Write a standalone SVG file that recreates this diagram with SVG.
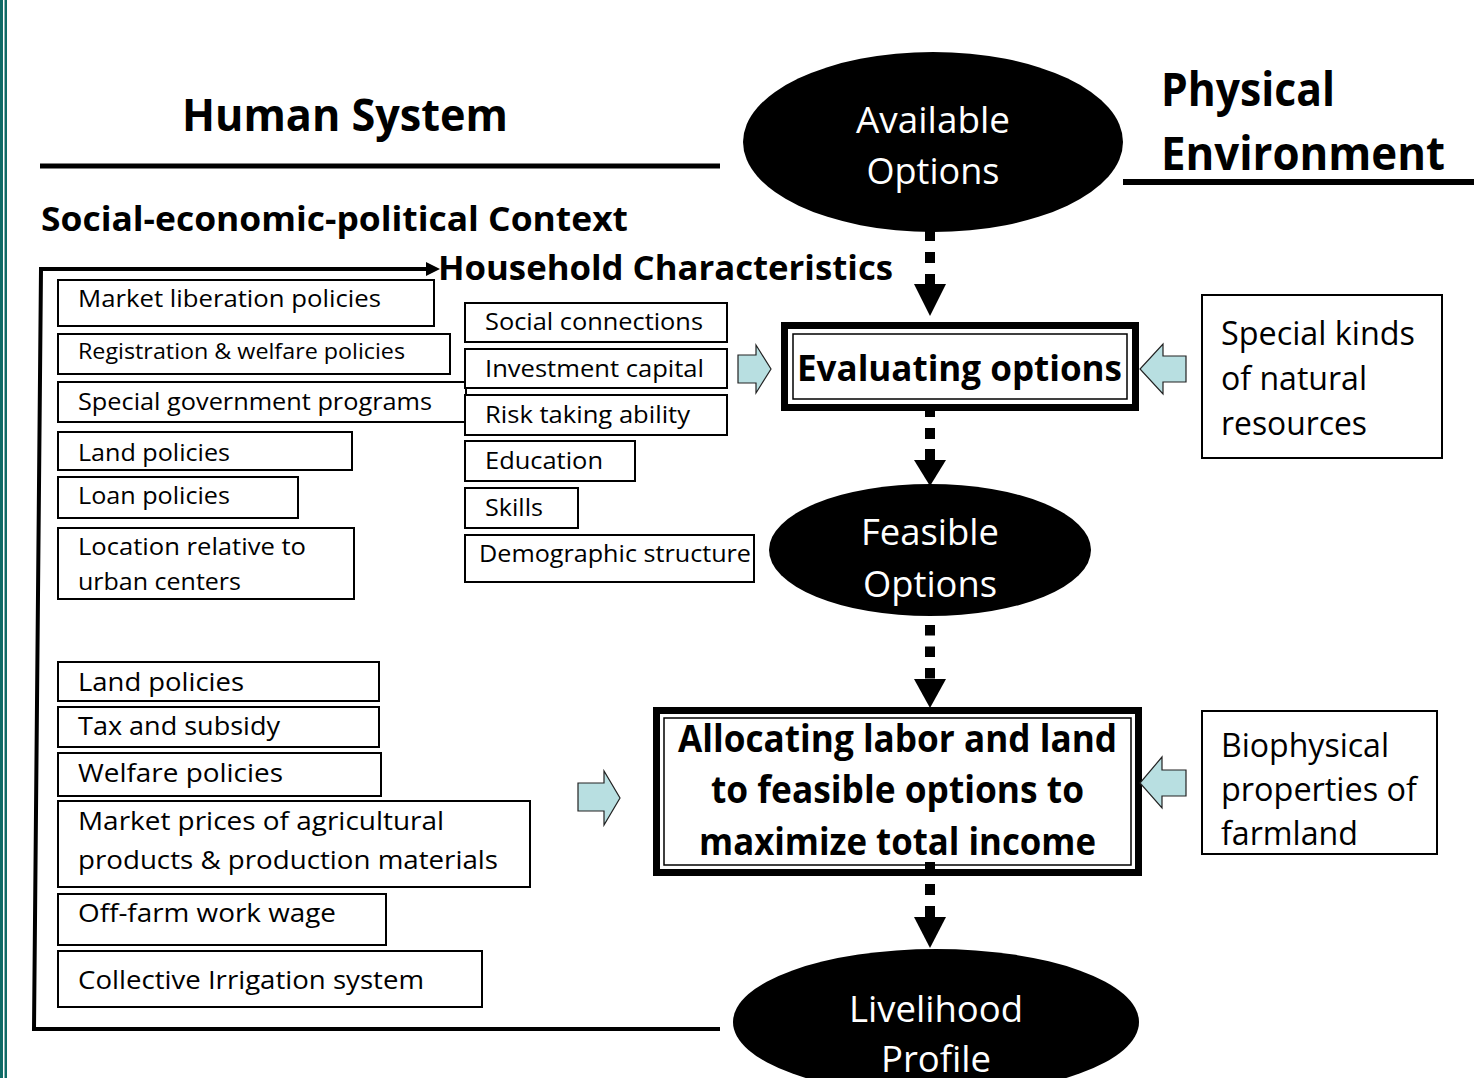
<svg xmlns="http://www.w3.org/2000/svg" width="1484" height="1078" viewBox="0 0 1484 1078">
<defs>
<style>
text{font-family:"Open Sans","Noto Sans","Liberation Sans",sans-serif;fill:#000}
.box{fill:#fff;stroke:#000;stroke-width:2}
.t24{font-size:24px}
.t26{font-size:26px}
.t32{font-size:32px}
.hd{font-weight:bold}
.wt{fill:#fff;font-size:36px;text-anchor:middle}
.bt{font-weight:bold;text-anchor:middle}
.ell{fill:#000}
.dash{stroke:#000;stroke-width:10;fill:none}
.blk{fill:#b8dfe1;stroke:#222;stroke-width:1.2}
.thick{fill:#fff;stroke:#000;stroke-width:7}
.thin{fill:none;stroke:#000;stroke-width:1.5}
</style>
</defs>
<rect x="0" y="0" width="1484" height="1078" fill="#fff"/>
<rect x="0" y="0" width="3" height="1078" fill="#0e6b66"/>
<rect x="4.5" y="0" width="2.5" height="1078" fill="#0e6b66"/>

<g id="headings">
<text class="hd" x="182" y="131" font-size="44" textLength="326" lengthAdjust="spacingAndGlyphs">Human System</text>
<rect x="40" y="163.5" width="680" height="5" fill="#000"/>
<text class="hd" x="1161" y="106" font-size="46" textLength="174" lengthAdjust="spacingAndGlyphs">Physical</text>
<text class="hd" x="1161" y="170" font-size="46" textLength="284" lengthAdjust="spacingAndGlyphs">Environment</text>
<rect x="1123" y="179" width="351" height="6" fill="#000"/>
<text class="hd" x="41" y="231" font-size="34" textLength="587" lengthAdjust="spacingAndGlyphs">Social-economic-political Context</text>
<text class="hd" x="438" y="280" font-size="34" textLength="455" lengthAdjust="spacingAndGlyphs">Household Characteristics</text>
</g>

<g id="available-options">
<ellipse class="ell" cx="933" cy="142" rx="190" ry="90"/>
<text class="wt" x="933" y="133" textLength="154" lengthAdjust="spacingAndGlyphs">Available</text>
<text class="wt" x="933" y="184" textLength="133" lengthAdjust="spacingAndGlyphs">Options</text>
</g>

<g id="evaluating-options">
<rect class="thick" x="784.5" y="325.5" width="351" height="82"/>
<rect class="thin" x="793" y="334" width="334" height="65"/>
<text class="bt" x="959.5" y="381" font-size="36" textLength="325" lengthAdjust="spacingAndGlyphs">Evaluating options</text>
</g>

<g id="feasible-options">
<ellipse class="ell" cx="930" cy="550" rx="161" ry="66"/>
<text class="wt" x="930" y="545" textLength="138" lengthAdjust="spacingAndGlyphs">Feasible</text>
<text class="wt" x="930" y="597" textLength="134" lengthAdjust="spacingAndGlyphs">Options</text>
</g>

<g id="allocating">
<rect class="thick" x="656.5" y="710.5" width="482" height="162"/>
<rect class="thin" x="664" y="718" width="467" height="147"/>
<text class="bt" x="897.5" y="752" font-size="38" textLength="439" lengthAdjust="spacingAndGlyphs">Allocating labor and land</text>
<text class="bt" x="897.5" y="803" font-size="38" textLength="373" lengthAdjust="spacingAndGlyphs">to feasible options to</text>
<text class="bt" x="897.5" y="855" font-size="38" textLength="397" lengthAdjust="spacingAndGlyphs">maximize total income</text>
</g>

<g id="connectors">
<path d="M720 1029 L34 1029 L41 269 L428 269" fill="none" stroke="#000" stroke-width="4"/>
<polygon points="426,262 440,269 426,276" fill="#000"/>
<line class="dash" x1="930" y1="230" x2="930" y2="284" stroke-dasharray="11 11"/>
<polygon points="914,284 946,284 930,316" fill="#000"/>
<rect x="925" y="408" width="10" height="9" fill="#000"/>
<line class="dash" x1="930" y1="428" x2="930" y2="460" stroke-dasharray="11 10"/>
<polygon points="914,460 946,460 930,486" fill="#000"/>
<line class="dash" x1="930" y1="625" x2="930" y2="679" stroke-dasharray="10.5 11"/>
<polygon points="914,679 946,679 930,708" fill="#000"/>
<rect x="925" y="862" width="10" height="12" fill="#000"/>
<line class="dash" x1="930" y1="884" x2="930" y2="917" stroke-dasharray="11 11"/>
<polygon points="914,917 946,917 930,948" fill="#000"/>
<polygon class="blk" points="738,355 756,355 756,345 771,369 756,393 756,383 738,383"/>
<polygon class="blk" points="1186,356 1163,356 1163,344 1140,369 1163,394 1163,382 1186,382"/>
<polygon class="blk" points="578,783 604,783 604,771 620,798 604,825 604,811 578,811"/>
<polygon class="blk" points="1186,770 1162,770 1162,757 1140,783 1162,808 1162,796 1186,796"/>
</g>

<g id="livelihood-profile">
<ellipse class="ell" cx="936" cy="1022" rx="203" ry="73"/>
<text class="wt" x="936" y="1022" textLength="174" lengthAdjust="spacingAndGlyphs">Livelihood</text>
<text class="wt" x="936" y="1072" textLength="110" lengthAdjust="spacingAndGlyphs">Profile</text>
</g>

<g id="natural-resources">
<rect class="box" x="1202" y="295" width="240" height="163"/>
<text class="t32" x="1221" y="345" textLength="194" lengthAdjust="spacingAndGlyphs">Special kinds</text>
<text class="t32" x="1221" y="390" textLength="146" lengthAdjust="spacingAndGlyphs">of natural</text>
<text class="t32" x="1221" y="435" textLength="146" lengthAdjust="spacingAndGlyphs">resources</text>
</g>

<g id="biophysical">
<rect class="box" x="1202" y="711" width="235" height="143"/>
<text class="t32" x="1221" y="757" textLength="168" lengthAdjust="spacingAndGlyphs">Biophysical</text>
<text class="t32" x="1221" y="801" textLength="196" lengthAdjust="spacingAndGlyphs">properties of</text>
<text class="t32" x="1221" y="845" textLength="137" lengthAdjust="spacingAndGlyphs">farmland</text>
</g>

<g id="market-liberation">
<rect class="box" x="58" y="280" width="376" height="46"/>
<text class="t24" x="78" y="307" textLength="303" lengthAdjust="spacingAndGlyphs">Market liberation policies</text>
</g>
<g id="registration-welfare">
<rect class="box" x="58" y="334" width="392" height="40"/>
<text x="78" y="359" font-size="22.5" textLength="327" lengthAdjust="spacingAndGlyphs">Registration &amp; welfare policies</text>
</g>
<g id="special-government">
<rect class="box" x="58" y="382" width="408" height="40"/>
<text class="t24" x="78" y="410" textLength="354" lengthAdjust="spacingAndGlyphs">Special government programs</text>
</g>
<g id="land-policies-1">
<rect class="box" x="58" y="432" width="294" height="38"/>
<text class="t24" x="78" y="461" textLength="152" lengthAdjust="spacingAndGlyphs">Land policies</text>
</g>
<g id="loan-policies">
<rect class="box" x="58" y="477" width="240" height="41"/>
<text class="t24" x="78" y="504" textLength="152" lengthAdjust="spacingAndGlyphs">Loan policies</text>
</g>
<g id="location">
<rect class="box" x="58" y="528" width="296" height="71"/>
<text class="t24" x="78" y="555" textLength="228" lengthAdjust="spacingAndGlyphs">Location relative to</text>
<text class="t24" x="78" y="590" textLength="163" lengthAdjust="spacingAndGlyphs">urban centers</text>
</g>

<g id="land-policies-2">
<rect class="box" x="58" y="662" width="321" height="39"/>
<text class="t26" x="78" y="691" textLength="166" lengthAdjust="spacingAndGlyphs">Land policies</text>
</g>
<g id="tax-subsidy">
<rect class="box" x="58" y="707" width="321" height="40"/>
<text class="t26" x="78" y="735" textLength="202" lengthAdjust="spacingAndGlyphs">Tax and subsidy</text>
</g>
<g id="welfare-policies">
<rect class="box" x="58" y="753" width="323" height="43"/>
<text class="t26" x="78" y="782" textLength="205" lengthAdjust="spacingAndGlyphs">Welfare policies</text>
</g>
<g id="market-prices">
<rect class="box" x="58" y="801" width="472" height="86"/>
<text class="t26" x="78" y="830" textLength="366" lengthAdjust="spacingAndGlyphs">Market prices of agricultural</text>
<text class="t26" x="78" y="869" textLength="420" lengthAdjust="spacingAndGlyphs">products &amp; production materials</text>
</g>
<g id="off-farm-wage">
<rect class="box" x="58" y="894" width="328" height="51"/>
<text class="t26" x="78" y="922" textLength="258" lengthAdjust="spacingAndGlyphs">Off-farm work wage</text>
</g>
<g id="irrigation">
<rect class="box" x="58" y="951" width="424" height="56"/>
<text class="t26" x="78" y="989" textLength="346" lengthAdjust="spacingAndGlyphs">Collective Irrigation system</text>
</g>

<g id="social-connections">
<rect class="box" x="465" y="303" width="262" height="39"/>
<text class="t24" x="485" y="330" textLength="218" lengthAdjust="spacingAndGlyphs">Social connections</text>
</g>
<g id="investment-capital">
<rect class="box" x="465" y="349" width="262" height="39"/>
<text class="t24" x="485" y="377" textLength="219" lengthAdjust="spacingAndGlyphs">Investment capital</text>
</g>
<g id="risk-taking">
<rect class="box" x="465" y="395" width="262" height="40"/>
<text class="t24" x="485" y="423" textLength="205" lengthAdjust="spacingAndGlyphs">Risk taking ability</text>
</g>
<g id="education">
<rect class="box" x="465" y="441" width="170" height="40"/>
<text class="t24" x="485" y="469" textLength="118" lengthAdjust="spacingAndGlyphs">Education</text>
</g>
<g id="skills">
<rect class="box" x="465" y="488" width="113" height="40"/>
<text class="t24" x="485" y="516" textLength="58" lengthAdjust="spacingAndGlyphs">Skills</text>
</g>
<g id="demographic">
<rect class="box" x="465" y="535" width="289" height="47"/>
<text class="t24" x="479" y="562" textLength="272" lengthAdjust="spacingAndGlyphs">Demographic structure</text>
</g>
</svg>
